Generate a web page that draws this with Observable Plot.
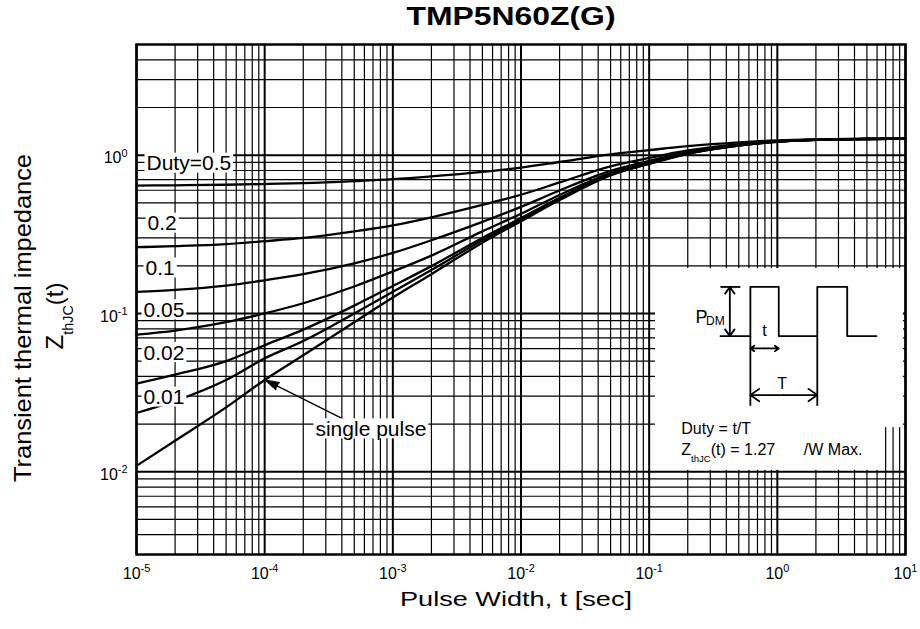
<!DOCTYPE html>
<html><head><meta charset="utf-8">
<script src="https://cdn.jsdelivr.net/npm/d3@7"></script>
<script src="https://cdn.jsdelivr.net/npm/@observablehq/plot@0.6"></script>
<style>
body{margin:0;background:#fff;}
#chart svg{display:block;}
</style></head>
<body><div id="chart"></div>
<script>
// ---- data ----
const pulseWidth = [1e-5,2e-5,5e-5,1e-4,2e-4,5e-4,1e-3,2e-3,5e-3,1e-2,2e-2,5e-2,0.1,0.2,0.5,1,2,5,10];
const zDuty05  = [0.642,0.645,0.650,0.657,0.665,0.685,0.705,0.735,0.785,0.835,0.905,1.010,1.075,1.140,1.205,1.240,1.258,1.267,1.27];
const zDuty02  = [0.262,0.266,0.274,0.286,0.300,0.330,0.360,0.405,0.485,0.562,0.672,0.850,0.960,1.070,1.175,1.225,1.255,1.266,1.27];
const zDuty01  = [0.137,0.141,0.150,0.162,0.177,0.207,0.241,0.290,0.379,0.471,0.598,0.795,0.920,1.045,1.162,1.220,1.252,1.265,1.27];
const zDuty005 = [0.0735,0.078,0.088,0.100,0.116,0.148,0.184,0.232,0.330,0.426,0.560,0.770,0.900,1.033,1.156,1.218,1.251,1.265,1.27];
const zDuty002 = [0.036,0.041,0.050,0.063,0.079,0.112,0.149,0.199,0.300,0.400,0.537,0.755,0.888,1.025,1.152,1.216,1.250,1.265,1.27];
const zDuty001 = [0.0235,0.028,0.038,0.052,0.067,0.100,0.137,0.188,0.290,0.391,0.528,0.750,0.884,1.022,1.150,1.215,1.250,1.265,1.27];
const zSingle  = [0.0109,0.0157,0.0255,0.038,0.0545,0.088,0.126,0.177,0.280,0.382,0.520,0.745,0.880,1.020,1.150,1.215,1.250,1.265,1.27];
const seriesNames = ["0.5","0.2","0.1","0.05","0.02","0.01","single"];
const seriesValues = [zDuty05,zDuty02,zDuty01,zDuty005,zDuty002,zDuty001,zSingle];

const xTicks = [1e-5,1e-4,1e-3,1e-2,1e-1,1,10];
const xTickLabels = ["10^{-5}","10^{-4}","10^{-3}","10^{-2}","10^{-1}","10^{0}","10^{1}"];
const yTicks = [0.01,0.1,1];
const yTickLabels = ["10^{-2}","10^{-1}","10^{0}"];
const gridMultipliers = [1,2,3,4,5,6,7,8,9];
const xDecades = [1e-5,1e-4,1e-3,1e-2,1e-1,1,10];
const yDecades = [1e-3,1e-2,1e-1,1];

const labelText = ["Duty=0.5","0.2","0.1","0.05","0.02","0.01","single pulse"];
const labelT    = [1.197e-5,1.22e-5,1.176e-5,1.134e-5,1.134e-5,1.134e-5,2.49e-4];
const labelZ    = [0.886,0.370,0.193,0.105,0.0564,0.0295,0.01858];

// arrow from "single pulse" label to curve
const pointerFrom = {t:4.27e-4, z:0.0212};
const pointerTo   = {t:1.015e-4, z:0.0379};

// inset (pulse diagram) in data units
const insetBoxT1 = [0.112,0.139], insetBoxT2 = [9.64,6.38], insetBoxZ1 = [0.019,0.0102], insetBoxZ2 = [0.192,0.022];
const waveT = [0.36,0.616,0.616,1.026,1.026,2.05,2.05,3.51,3.51,5.94];
const waveZ = [0.0719,0.0719,0.147,0.147,0.0719,0.0719,0.147,0.147,0.0719,0.0719];
const segT1 = [0.36,0.616,2.05], segT2 = [0.515,0.616,2.05], segZ1 = [0.147,0.0719,0.0719], segZ2 = [0.147,0.0261,0.0261];
const arrT1 = [0.426,0.426,0.795,0.795,1.124,1.124], arrT2 = [0.426,0.426,0.616,1.026,0.616,2.05];
const arrZ1 = [0.103,0.103,0.0601,0.0601,0.0305,0.0305], arrZ2 = [0.147,0.0719,0.0601,0.0601,0.0305,0.0305];
const insetText = ["P","DM","t","T","Duty = t/T","Z_{thJC}(t) = 1.27","/W Max."];
const insetTextT = [0.2296,0.2775,0.794,1.09,0.178,0.178,1.609];
const insetTextZ = [0.0952,0.0894,0.0776,0.0357,0.01877,0.01369,0.01369];
const insetTextSize = [18,12,16,16,16,16,16];
const insetTextAnchor = ["start","start","middle","middle","start","start","start"];

// ---- build tables ----
const curves = seriesNames.flatMap((s,i)=>pulseWidth.map((t,j)=>({series:s,t,z:seriesValues[i][j]})));
const xGrid = xDecades.flatMap(d=>gridMultipliers.map(m=>({v:m*d,major:m===1}))).filter(g=>g.v<=10*1.0001);
const yGrid = yDecades.flatMap(d=>gridMultipliers.map(m=>({v:m*d,major:m===1}))).filter(g=>g.v>=0.003*0.999&&g.v<=5*1.0001);
const labels = labelText.map((text,i)=>({text,t:labelT[i],z:labelZ[i]}));
const boxes = insetBoxT1.map((_,i)=>({x1:insetBoxT1[i],x2:insetBoxT2[i],y1:insetBoxZ1[i],y2:insetBoxZ2[i]}));
const wave = waveT.map((t,i)=>({t,z:waveZ[i]}));
const segs = segT1.map((_,i)=>({x1:segT1[i],x2:segT2[i],y1:segZ1[i],y2:segZ2[i]}));
const arrs = arrT1.map((_,i)=>({x1:arrT1[i],x2:arrT2[i],y1:arrZ1[i],y2:arrZ2[i]}));
const itexts = insetText.map((text,i)=>({text,t:insetTextT[i],z:insetTextZ[i],size:insetTextSize[i],anchor:insetTextAnchor[i]}));
const xt = xTicks.map((v,i)=>({v,label:xTickLabels[i]}));
const yt = yTicks.map((v,i)=>({v,label:yTickLabels[i]}));

const FONT = "'Liberation Sans', Arial, Helvetica, sans-serif";

const svg = Plot.plot({
  width: 920, height: 629,
  marginLeft: 136, marginRight: 15, marginTop: 44, marginBottom: 75,
  style: {fontFamily: FONT, background: "white", color: "black", overflow: "visible"},
  x: {type: "log", domain: [1e-5, 10], axis: null},
  y: {type: "log", domain: [0.003, 5], axis: null},
  marks: [
    Plot.ruleX(xGrid.filter(g=>!g.major), {x:"v", stroke:"#000", strokeWidth:1.2}),
    Plot.ruleY(yGrid.filter(g=>!g.major), {y:"v", stroke:"#000", strokeWidth:1.2}),
    Plot.ruleX(xGrid.filter(g=>g.major), {x:"v", stroke:"#000", strokeWidth:2}),
    Plot.ruleY(yGrid.filter(g=>g.major), {y:"v", stroke:"#000", strokeWidth:2}),
    Plot.line(curves, {x:"t", y:"z", z:"series", stroke:"#000", strokeWidth:2.3, curve:"monotone-x"}),
    Plot.rect(boxes, {x1:"x1", x2:"x2", y1:"y1", y2:"y2", fill:"white"}),
    Plot.line(wave, {x:"t", y:"z", stroke:"#000", strokeWidth:1.8}),
    Plot.link(segs, {x1:"x1", x2:"x2", y1:"y1", y2:"y2", stroke:"#000", strokeWidth:1.8}),
    Plot.arrow(arrs, {x1:"x1", x2:"x2", y1:"y1", y2:"y2", stroke:"#000", strokeWidth:1.8, headLength:9, headAngle:70}),
    Plot.text(itexts, {x:"t", y:"z", text:"text", fontSize:d=>d.size, textAnchor:"start", fill:"#000", filter:d=>d.anchor==="start"}),
    Plot.text(itexts, {x:"t", y:"z", text:"text", fontSize:d=>d.size, textAnchor:"middle", fill:"#000", filter:d=>d.anchor==="middle"}),
    Plot.arrow([pointerFrom], {x1:"t", y1:"z", x2:()=>pointerTo.t, y2:()=>pointerTo.z, stroke:"#000", strokeWidth:1.4, headLength:15, headAngle:32}),
    Plot.text(labels, {x:"t", y:"z", text:"text", fontSize:21, textAnchor:"start", fill:"#000"}),
    Plot.text(xt, {x:"v", text:"label", frameAnchor:"bottom", dy:24, fontSize:16, fill:"#000", textAnchor:"middle"}),
    Plot.text(yt, {y:"v", text:"label", frameAnchor:"left", dx:-9, dy:3, fontSize:16, fill:"#000", textAnchor:"end"}),
    Plot.frame({stroke:"#000", strokeWidth:2.5})
  ]
});
document.getElementById("chart").appendChild(svg);

// rich text: _{sub} and ^{sup}
function applyRich(node){
  const s = node.textContent;
  if(!/[_^]\{/.test(s)) return;
  const f = parseFloat(getComputedStyle(node).fontSize) || 16;
  const parts = s.split(/([_^]\{[^}]*\})/).filter(p=>p.length);
  while(node.firstChild) node.removeChild(node.firstChild);
  let shift = 0;
  for(const p of parts){
    const ts = document.createElementNS("http://www.w3.org/2000/svg","tspan");
    let target = 0, txt = p, size = null;
    if(p.startsWith("_{")){ target = 0.42*f; txt = p.slice(2,-1); size = 0.6*f; }
    else if(p.startsWith("^{")){ target = -0.42*f; txt = p.slice(2,-1); size = 0.68*f; }
    const dy = target - shift; shift = target;
    if(dy) ts.setAttribute("dy", dy.toFixed(2));
    if(size) ts.setAttribute("font-size", size.toFixed(2));
    ts.textContent = txt;
    node.appendChild(ts);
  }
}
svg.querySelectorAll("text").forEach(applyRich);

// white boxes behind curve labels (same local coordinate system as each text)
const labelSet = new Set(labelText);
svg.querySelectorAll("text").forEach(function(node){
  if(!labelSet.has(node.textContent)) return;
  const b = node.getBBox();
  const r = document.createElementNS("http://www.w3.org/2000/svg","rect");
  r.setAttribute("x", b.x-2); r.setAttribute("y", b.y+1.5);
  r.setAttribute("width", b.width+4); r.setAttribute("height", b.height-3);
  r.setAttribute("fill","white"); r.setAttribute("stroke","none");
  const tr = node.getAttribute("transform");
  if(tr) r.setAttribute("transform", tr);
  node.parentNode.insertBefore(r, node);
});
// filled head on the pointer arrow (last arrow mark)
const arrowGroups = svg.querySelectorAll('g[aria-label="arrow"]');
if(arrowGroups.length) d3.select(arrowGroups[arrowGroups.length-1]).selectAll("path").attr("fill","#000");

// titles and axis labels
const S = d3.select(svg);
S.append("text").attr("x",511).attr("y",25).attr("text-anchor","middle")
  .attr("font-size",25).attr("font-weight","bold").attr("font-family",FONT)
  .attr("textLength",209).attr("lengthAdjust","spacingAndGlyphs").text("TMP5N60Z(G)");
S.append("text").attr("x",516).attr("y",606).attr("text-anchor","middle")
  .attr("font-size",21).attr("font-family",FONT)
  .attr("textLength",232).attr("lengthAdjust","spacingAndGlyphs").text("Pulse Width, t [sec]");
S.append("text").attr("transform","translate(31,318) rotate(-90)").attr("text-anchor","middle")
  .attr("font-size",24).attr("font-family",FONT)
  .attr("textLength",328).attr("lengthAdjust","spacingAndGlyphs").text("Transient thermal impedance");
const zt = S.append("text").attr("transform","translate(63,316) rotate(-90)").attr("text-anchor","middle")
  .attr("font-size",24).attr("font-family",FONT).text("Z_{thJC}(t)");
applyRich(zt.node());
</script>
</body></html>
